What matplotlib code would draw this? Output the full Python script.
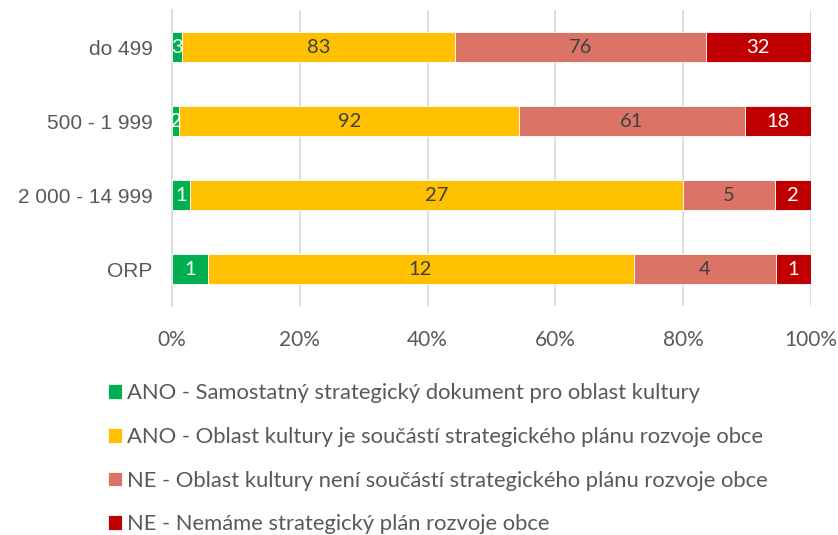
import numpy as np
import matplotlib.pyplot as plt

# data
categories = ["do 499", "500 - 1 999", "2 000 - 14 999", "ORP"]
series_names = [
    "ANO - Samostatný strategický dokument pro oblast kultury",
    "ANO - Oblast kultury je součástí strategického plánu rozvoje obce",
    "NE - Oblast kultury není součástí strategického plánu rozvoje obce",
    "NE - Nemáme strategický plán rozvoje obce",
]
ano_samostatny = [3, 2, 1, 1]
ano_soucasti = [83, 92, 27, 12]
ne_neni_soucasti = [76, 61, 5, 4]
ne_nemame = [32, 18, 2, 1]
x_ticks = [0, 20, 40, 60, 80, 100]

colors = ["#00B050", "#FFC000", "#DC7367", "#C00000"]
label_colors = ["white", "#404040", "#404040", "white"]

values = np.array([ano_samostatny, ano_soucasti, ne_neni_soucasti, ne_nemame], dtype=float)
totals = values.sum(axis=0)
shares = values / totals * 100

fig = plt.figure(figsize=(8.38, 5.35), dpi=100)
ax = fig.add_axes([0.2053, 0.428, 0.7625, 0.553])

y = np.arange(len(categories))
left = np.zeros(len(categories))
handles = []
for i, name in enumerate(series_names):
    bars = ax.barh(y, shares[i], left=left, height=0.4, color=colors[i],
                   edgecolor="white", linewidth=0.6, label=name, zorder=3)
    handles.append(bars)
    for j, b in enumerate(bars):
        cx = left[j] + shares[i][j] / 2
        ax.text(cx, y[j], f"{int(values[i][j])}", ha="center", va="center",
                color=label_colors[i], fontsize=14.5, family="Lato", zorder=4)
    left += shares[i]

ax.set_xlim(0, 100)
ax.set_ylim(len(categories) - 0.5, -0.5)
ax.set_yticks(y)
ax.set_yticklabels(categories, family="Liberation Sans", fontsize=15, color="#595959")
ax.set_xticks(x_ticks)
ax.set_xticklabels([f"{t}%" for t in x_ticks], family="Lato", fontsize=15, color="#595959")
ax.tick_params(axis="y", length=0, pad=14)
ax.tick_params(axis="x", length=0, pad=17)
ax.grid(axis="x", color="#D9D9D9", linewidth=1.2, zorder=0)
for s in ["top", "right", "bottom"]:
    ax.spines[s].set_visible(False)
ax.spines["left"].set_color("#D9D9D9")
ax.spines["left"].set_linewidth(1.2)

fig.legend(handles=handles, labels=series_names, loc="upper left",
           bbox_to_anchor=(0.118, 0.300), frameon=False, ncol=1,
           prop={"family": "Lato", "size": 15.8}, labelcolor="#595959",
           handlelength=0.65, handleheight=0.65, handletextpad=0.25,
           labelspacing=1.08, borderaxespad=0)

fig.savefig("out.png", dpi=100)
